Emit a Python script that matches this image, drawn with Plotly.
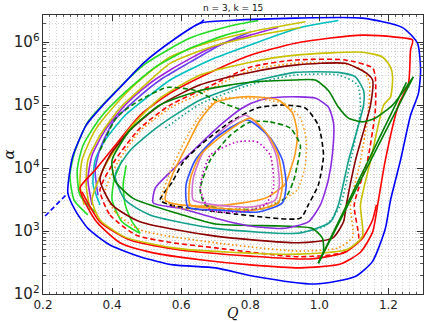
import plotly.graph_objects as go

TITLE = "n = 3, k = 15"
X_LABEL = "Q"
Y_LABEL = "α"

# ---- curve data (Q, alpha) ----
BLUE_Q = [0.655,0.742,0.930,1.125,1.241,1.284,1.293,1.287,1.264,1.235,1.206,1.191,1.154,1.104,0.988,0.814,0.699,0.577,0.481,0.394,0.330,0.293,0.272,0.278,0.287,0.325,0.374,0.423,0.490,0.577,0.655]
BLUE_A = [2.0e6,2.2e6,2.4e6,2.4e6,1.7e6,9.6e5,3.6e5,1.55e5,6.9e4,1.34e4,3.1e3,1.1e3,330,190,144,190,260,290,390,600,1.1e3,2.15e3,4.0e3,9.3e3,1.6e4,4.8e4,1.0e5,1.9e5,4.6e5,1.08e6,2.0e6]
BLUE_DASH1_Q = [0.206, 0.272]
BLUE_DASH1_A = [1.73e3, 4.0e3]
BLUE_DASH2_Q = [0.655, 0.672]
BLUE_DASH2_A = [2.0e6, 2.4e6]

RED1_Q = [0.307,0.351,0.423,0.519,0.655,0.800,0.945,1.061,1.119,1.154,1.171,1.191,1.229,1.258,1.264,1.270,1.220,1.125,1.032,0.930,0.800,0.684,0.568,0.481,0.409,0.351,0.307]
RED1_A = [4.8e3,1.5e3,650,450,350,290,260,300,460,960,3.1e3,1.34e4,1.0e5,2.2e5,7.5e5,1.08e6,1.2e6,1.29e6,1.16e6,9.6e5,6.2e5,3.3e5,1.55e5,6.9e4,2.3e4,9.3e3,4.8e3]
RED2_Q = [0.313,0.365,0.452,0.597,0.800,0.974,1.075,1.125,1.154,1.165]
RED2_A = [4.2e3,1.4e3,720,500,400,360,460,770,1.5e3,2.6e3]

REDD_Q = [0.365,0.394,0.470,0.577,0.699,0.939,1.067,1.113,1.101,1.139,1.162,1.162,1.154,1.075,0.930,0.800,0.675,0.568,0.481,0.409,0.365]
REDD_A = [4.5e3,1.8e3,860,650,540,390,450,690,2.6e3,1.29e4,8.3e4,2.8e5,3.9e5,5.2e5,5.2e5,4.0e5,1.9e5,1.0e5,4.3e4,1.34e4,4.5e3]

ORD_Q = [0.380,0.409,0.481,0.699,0.939,1.055,1.096,1.090,1.119,1.142,1.145,1.125,1.075,0.930,0.800,0.675,0.568,0.481,0.417,0.380]
ORD_A = [4.2e3,2.0e3,1.04e3,650,480,540,800,2.6e3,1.29e4,8.3e4,2.3e5,3.6e5,4.5e5,4.6e5,3.6e5,1.7e5,9.0e4,3.9e4,1.25e4,4.2e3]

YEL_Q = [0.342,0.365,0.438,0.577,0.742,0.939,1.084,1.125,1.119,1.148,1.186,1.206,1.212,1.206,1.183,1.125,0.930,0.800,0.655,0.539,0.452,0.380,0.342]
YEL_A = [3.1e3,1.5e3,800,540,460,430,520,830,2.6e3,1.29e4,1.0e5,1.34e5,2.8e5,4.0e5,5.8e5,6.9e5,6.2e5,4.8e5,3.0e5,1.29e5,4.3e4,1.1e4,3.1e3]

MAR_Q = [0.365,0.400,0.481,0.699,0.939,1.038,1.070,1.078,1.104,1.148,1.154,1.133,1.075,0.930,0.800,0.655,0.539,0.452,0.394,0.365]
MAR_A = [6.5e3,2.6e3,1.4e3,830,650,770,1.4e3,2.6e3,1.29e4,1.0e5,2.5e5,3.3e5,4.6e5,4.3e5,3.3e5,2.1e5,1.0e5,4.0e4,1.6e4,6.5e3]

TEAL_Q = [0.409,0.438,0.510,0.699,0.945,1.032,1.055,1.084,1.128,1.128,1.104,1.055,0.930,0.800,0.655,0.539,0.452,0.409]
TEAL_A = [7.7e3,3.1e3,1.8e3,1.1e3,930,1.4e3,2.6e3,1.29e4,1.0e5,1.7e5,2.8e5,3.3e5,3.3e5,2.3e5,1.2e5,4.8e4,1.9e4,7.7e3]
TEALD_Q = [0.554,0.655,0.800,0.930,1.055,1.110,1.119,1.090,1.061,1.017,0.945]
TEALD_A = [4.3e4,1.04e5,2.1e5,3.0e5,3.0e5,2.1e5,8.3e4,1.29e4,2.6e3,1.2e3,960]

DG_Q = [1.272,1.235,1.212,1.162,1.125,1.084,1.055,1.026,0.988,0.930,0.800,0.655,0.539,0.452,0.400,0.409,0.461,0.597,0.699,0.893,0.980,1.009,1.012,0.997]
DG_A = [2.8e5,1.44e5,1.0e5,6.2e4,5.4e4,6.2e4,9.3e4,1.7e5,2.5e5,2.5e5,2.3e5,1.7e5,1.0e5,4.0e4,1.34e4,6.2e3,3.3e3,1.85e3,1.29e3,1.2e3,1.1e3,770,480,310]
DG_LINE1_Q = [0.997, 1.272]
DG_LINE1_A = [310, 2.8e5]
DG_LINE2_Q = [0.997, 1.252]
DG_LINE2_A = [310, 2.3e5]

PUR_Q = [0.519,0.525,0.568,0.635,0.713,0.777,0.829,0.893,0.988,1.026,1.041,1.038,1.026,1.003,0.968,0.893,0.800,0.699,0.597,0.519]
PUR_A = [2.8e3,4.8e3,8.6e3,1.9e4,4.8e4,9.0e4,1.2e5,1.34e5,1.29e5,9.3e4,5.2e4,1.7e4,6.5e3,2.6e3,1.4e3,1.1e3,1.2e3,1.6e3,2.3e3,2.8e3]

BLK_Q = [0.539,0.568,0.762,0.945,0.968,0.997,1.012,0.997,0.959,0.893,0.820,0.742,0.655,0.606,0.574,0.539]
BLK_A = [3.1e3,2.6e3,1.85e3,1.6e3,2.6e3,5.4e3,1.6e4,4.8e4,9.0e4,1.0e5,9.0e4,5.4e4,2.3e4,1.25e4,6.0e3,3.1e3]

ORA_Q = [0.554,0.574,0.617,0.655,0.699,0.771,0.823,0.881,0.922,0.936,0.930,0.916,0.901,0.843,0.699,0.597,0.554]
ORA_A = [3.1e3,7.7e3,2.3e4,5.8e4,1.1e5,1.34e5,1.34e5,1.2e5,7.5e4,3.6e4,1.7e4,9.3e3,5.6e3,3.3e3,2.5e3,2.6e3,3.1e3]
ORAD_Q = [0.545,0.568,0.612,0.655,0.707,0.823,0.901,0.945,0.962,0.959,0.936,0.864,0.713,0.597,0.545]
ORAD_A = [3.3e3,8.6e3,2.8e4,6.9e4,1.25e5,1.25e5,1.04e5,6.2e4,2.8e4,1.1e4,4.5e3,2.7e3,2.15e3,2.3e3,3.3e3]

GD_Q = [0.800,0.858,0.916,0.945,0.936,0.925,0.901,0.843,0.748,0.670,0.655,0.684,0.742,0.800]
GD_A = [5.4e4,5.4e4,4.3e4,2.3e4,1.1e4,6.2e3,3.3e3,2.3e3,2.2e3,2.6e3,4.5e3,1.34e4,3.3e4,5.4e4]
GDA_Q = [0.365,0.414,0.481,0.559,0.641,0.699,0.777]
GDA_A = [1.9e4,6.5e4,1.2e5,1.9e5,1.7e5,1.2e5,8.3e4]

IN_OR_Q = [0.800,0.852,0.881,0.893,0.881,0.814,0.713,0.626,0.626,0.655,0.719,0.800]
IN_OR_A = [6.2e4,3.3e4,1.6e4,5.4e3,2.8e3,2.15e3,2.3e3,2.6e3,6.5e3,1.6e4,3.3e4,6.2e4]
IN_BL_Q = [0.791,0.858,0.893,0.904,0.893,0.823,0.713,0.620,0.614,0.641,0.699,0.791]
IN_BL_A = [5.8e4,3.0e4,1.34e4,5.4e3,2.8e3,2.0e3,2.15e3,2.4e3,5.4e3,1.34e4,3.0e4,5.8e4]
IN_PK_Q = [0.786,0.843,0.875,0.884,0.872,0.800,0.699,0.635,0.635,0.664,0.719,0.786]
IN_PK_A = [6.9e4,3.7e4,1.6e4,5.4e3,3.1e3,2.4e3,2.6e3,3.1e3,6.9e3,1.8e4,4.0e4,6.9e4]
IN_MD_Q = [0.762,0.820,0.858,0.867,0.843,0.771,0.684,0.655,0.684,0.762]
IN_MD_A = [2.6e4,2.6e4,1.6e4,4.8e3,2.6e3,2.0e3,2.15e3,4.8e3,1.6e4,2.6e4]

LIME1_Q = [0.330,0.290,0.278,0.293,0.330,0.400,0.496,0.626,0.742,0.823]
LIME1_A = [1.8e3,3.1e3,7.7e3,1.9e4,5.4e4,1.44e5,4.5e5,1.16e6,1.8e6,2.2e6]
LIME2_Q = [0.351,0.307,0.299,0.316,0.365,0.438,0.525,0.626,0.728,0.786]
LIME2_A = [2.0e3,3.7e3,9.3e3,2.3e4,6.2e4,1.6e5,4.0e5,8.0e5,1.29e6,1.55e6]
LIME3_Q = [0.429,0.406,0.400,0.429,0.481,0.458,0.438,0.432,0.441]
LIME3_A = [1.34e4,6.5e3,3.1e3,1.4e3,930,1.4e3,2.6e3,5.4e3,1.1e4]

OLV1_Q = [0.319,0.307,0.313,0.351,0.409,0.481,0.568,0.684,0.814,0.959]
OLV1_A = [2.6e3,5.4e3,1.34e4,4.0e4,1.0e5,2.5e5,5.8e5,1.0e6,1.5e6,2.1e6]
OLV2_Q = [0.336,0.325,0.330,0.365,0.423,0.496,0.568,0.684,0.814,0.945]
OLV2_A = [2.15e3,5.4e3,1.34e4,3.3e4,9.0e4,2.1e5,4.6e5,8.3e5,1.25e6,1.7e6]

PUR1_Q = [0.342,0.330,0.342,0.380,0.438,0.504,0.568,0.684,0.800,0.881]
PUR1_A = [2.6e3,6.5e3,1.6e4,4.0e4,1.0e5,2.1e5,3.6e5,8.0e5,1.29e6,1.7e6]
PUR2_Q = [0.359,0.351,0.365,0.403,0.467,0.539,0.626,0.713,0.800]
PUR2_A = [3.7e3,9.3e3,2.0e4,5.4e4,1.2e5,2.5e5,4.8e5,9.0e5,1.44e6]

CYAN_Q = [0.365,0.345,0.351,0.380,0.438,0.510,0.568,0.684,0.800,0.945,1.055]
CYAN_A = [2.6e3,5.4e3,1.34e4,2.8e4,6.9e4,1.44e5,2.5e5,5.2e5,9.0e5,1.7e6,2.2e6]

X_TICKS = [0.2, 0.4, 0.6, 0.8, 1.0, 1.2]

DASH = "5px,3px"
DOT = "1.5px,2.5px"

fig = go.Figure()

def add(q, a, color, dash="solid", shape="spline", width=1.6):
    fig.add_trace(go.Scatter(
        x=q, y=a, mode="lines", hoverinfo="skip", showlegend=False,
        line=dict(color=color, width=width, dash=dash, shape=shape,
                  smoothing=0.6 if shape == "spline" else None)))

# bundle (upper left)
add(CYAN_Q, CYAN_A, "#00bfbf")
add(PUR2_Q, PUR2_A, "#6a3df0")
add(PUR1_Q, PUR1_A, "#a020e0")
add(OLV2_Q, OLV2_A, "#c8c000")
add(OLV1_Q, OLV1_A, "#c8c000")
add(LIME2_Q, LIME2_A, "#22dd22")
add(LIME1_Q, LIME1_A, "#22dd22")
add(LIME3_Q, LIME3_A, "#22dd22")
# big loops
add(RED1_Q, RED1_A, "#ff0000")
add(RED2_Q, RED2_A, "#ff0000")
add(REDD_Q, REDD_A, "#ff0000", dash=DASH)
add(ORD_Q, ORD_A, "#ff8c00", dash=DOT)
add(YEL_Q, YEL_A, "#c8c000")
add(MAR_Q, MAR_A, "#8b0000")
add(TEAL_Q, TEAL_A, "#13a08c")
add(TEALD_Q, TEALD_A, "#13a08c", dash=DOT)
add(DG_Q, DG_A, "#008000")
add(DG_LINE1_Q, DG_LINE1_A, "#008000", shape="linear")
add(DG_LINE2_Q, DG_LINE2_A, "#008000", shape="linear")
add(GDA_Q, GDA_A, "#008000", dash=DASH)
add(PUR_Q, PUR_A, "#8a2be2")
add(BLK_Q, BLK_A, "#000000", dash=DASH)
add(ORA_Q, ORA_A, "#ff9a1a")
add(ORAD_Q, ORAD_A, "#ff9a1a", dash=DOT)
add(GD_Q, GD_A, "#008000", dash=DASH)
add(IN_PK_Q, IN_PK_A, "#d070d0")
add(IN_BL_Q, IN_BL_A, "#3050ff")
add(IN_OR_Q, IN_OR_A, "#ff9a1a")
add(IN_MD_Q, IN_MD_A, "#bf00bf", dash=DOT)
add(BLUE_Q, BLUE_A, "#0000ff")
add(BLUE_DASH1_Q, BLUE_DASH1_A, "#0000ff", dash=DASH, shape="linear")
add(BLUE_DASH2_Q, BLUE_DASH2_A, "#0000ff", dash=DASH, shape="linear")

grid = dict(showgrid=True, gridcolor="#d2d2d2", gridwidth=1, griddash="1px,2px")
fig.update_xaxes(range=[0.2, 1.3], tickvals=X_TICKS, tickformat=".1f",
                 ticks="inside", ticklen=6, tickcolor="#333", mirror="allticks",
                 showline=True, linecolor="#333", linewidth=1, zeroline=False,
                 tickfont=dict(family="DejaVu Sans", size=12, color="#222"),
                 minor=dict(dtick=0.02, ticks="inside", ticklen=2, tickcolor="#555", **grid),
                 **grid)
fig.update_yaxes(type="log", range=[2, 6.43], dtick=1, exponentformat="power",
                 ticks="inside", ticklen=6, tickcolor="#333", mirror="allticks",
                 showline=True, linecolor="#333", linewidth=1, zeroline=False,
                 tickfont=dict(family="DejaVu Sans", size=12, color="#222"),
                 minor=dict(dtick="D1", ticks="inside", ticklen=3, tickcolor="#555", **grid),
                 **grid)

fig.update_layout(
    width=430, height=322,
    margin=dict(l=43, r=7, t=15, b=28),
    paper_bgcolor="white", plot_bgcolor="white",
    annotations=[
        dict(text=TITLE, xref="paper", yref="paper", x=0.5, y=1, yanchor="bottom",
             xanchor="center", showarrow=False, font=dict(family="DejaVu Sans", size=9, color="#111")),
        dict(text=X_LABEL, xref="paper", yref="paper", x=0.5, y=0, yanchor="middle", yshift=-19,
             xanchor="center", showarrow=False,
             font=dict(family="DejaVu Serif", size=14, color="#111", style="italic")),
        dict(text=Y_LABEL, xref="paper", yref="paper", x=0, y=0.5, xanchor="right", xshift=-24,
             textangle=-90, showarrow=False,
             font=dict(family="DejaVu Serif", size=15, color="#111", style="italic")),
    ],
)

fig.write_html("out.html")
